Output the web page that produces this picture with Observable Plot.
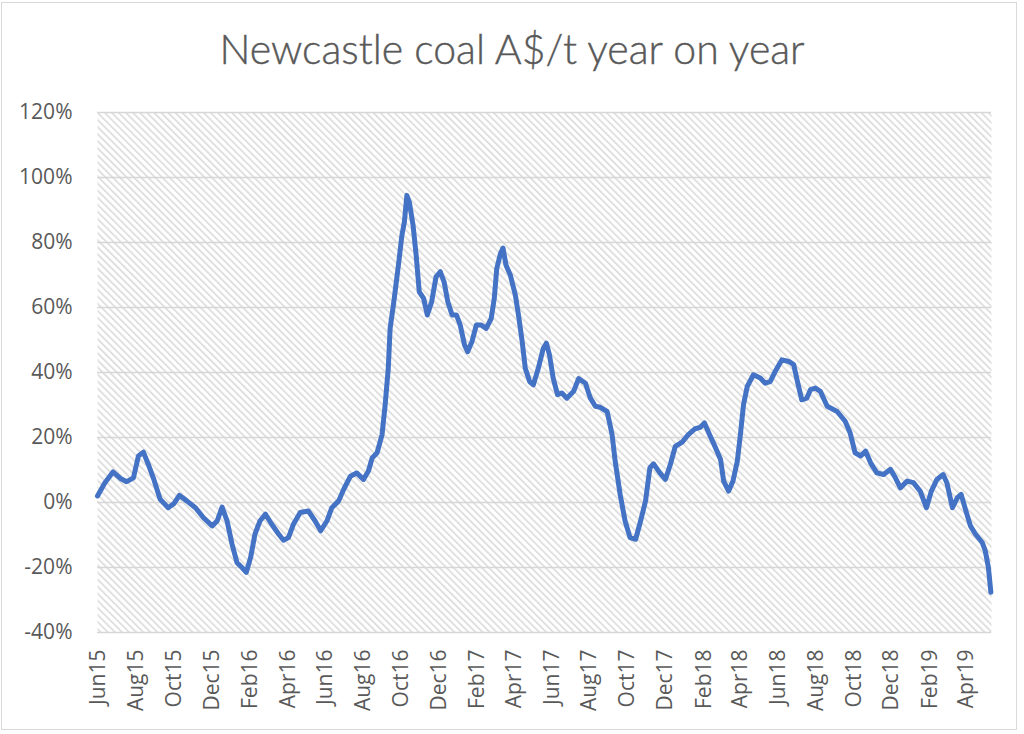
<!DOCTYPE html>
<html>
<head>
<meta charset="utf-8">
<script src="https://cdn.jsdelivr.net/npm/d3@7"></script>
<script src="https://cdn.jsdelivr.net/npm/@observablehq/plot@0.6"></script>
<style>
  html, body { margin: 0; padding: 0; background: #fff; }
  #wrap { position: relative; width: 1024px; height: 734px; overflow: hidden; background: #fff; }
  #border { position: absolute; left: 1px; top: 2px; width: 1016px; height: 728px; border: 1px solid #d9d9d9; box-sizing: border-box; }
  #title { position: absolute; left: 0; width: 1024px; top: 25px; text-align: center; font-family: Lato, "Open Sans", sans-serif; font-weight: 300; font-size: 41px; line-height: 48px; color: #595959; white-space: nowrap; -webkit-text-stroke: 0.4px #595959; }
  #chart { position: absolute; left: 0; top: 80px; }
</style>
</head>
<body>
<div id="wrap">
  <div id="border"></div>
  <div id="title">Newcastle coal A$/t year on year</div>
  <div id="chart"></div>
</div>
<script>
// Weekly-ish readings of the year-on-year change (%)
const dates = [
  "2015-05-30","2015-06-11","2015-06-24","2015-07-06","2015-07-16","2015-07-27","2015-08-04","2015-08-12","2015-08-20","2015-08-28",
  "2015-09-08","2015-09-21","2015-09-30","2015-10-09","2015-10-21","2015-11-04","2015-11-17","2015-12-01","2015-12-09","2015-12-17",
  "2015-12-25","2016-01-02","2016-01-10","2016-01-18","2016-01-25","2016-02-01","2016-02-08","2016-02-16","2016-02-25","2016-03-06",
  "2016-03-17","2016-03-25","2016-04-02","2016-04-10","2016-04-21","2016-05-04","2016-05-15","2016-05-24","2016-06-03","2016-06-11",
  "2016-06-22","2016-06-30","2016-07-11","2016-07-21","2016-08-01","2016-08-09","2016-08-15","2016-08-23","2016-08-31","2016-09-05",
  "2016-09-10","2016-09-13","2016-09-19","2016-09-23","2016-09-27","2016-10-02","2016-10-06","2016-10-10","2016-10-14","2016-10-20",
  "2016-10-25","2016-10-30","2016-11-06","2016-11-12","2016-11-19","2016-11-26","2016-12-03","2016-12-09","2016-12-15","2016-12-22",
  "2016-12-29","2017-01-04","2017-01-11","2017-01-16","2017-01-23","2017-01-30","2017-02-07","2017-02-15","2017-02-23","2017-02-28",
  "2017-03-04","2017-03-10","2017-03-14","2017-03-19","2017-03-26","2017-04-03","2017-04-08","2017-04-14","2017-04-19","2017-04-26",
  "2017-05-02","2017-05-10","2017-05-18","2017-05-23","2017-05-28","2017-06-03","2017-06-10","2017-06-17","2017-06-25","2017-07-06",
  "2017-07-14","2017-07-25","2017-08-02","2017-08-10","2017-08-18","2017-08-29","2017-09-06","2017-09-11","2017-09-19","2017-09-27",
  "2017-10-05","2017-10-14","2017-10-22","2017-10-30","2017-11-06","2017-11-12","2017-11-22","2017-12-01","2017-12-09","2017-12-17",
  "2017-12-28","2018-01-07","2018-01-18","2018-01-26","2018-02-02","2018-02-09","2018-02-20","2018-02-28","2018-03-05","2018-03-13",
  "2018-03-20","2018-03-27","2018-04-01","2018-04-06","2018-04-12","2018-04-22","2018-05-03","2018-05-11","2018-05-19","2018-05-27",
  "2018-06-07","2018-06-18","2018-06-26","2018-07-02","2018-07-09","2018-07-17","2018-07-23","2018-07-31","2018-08-08","2018-08-19",
  "2018-09-04","2018-09-17","2018-09-25","2018-10-03","2018-10-12","2018-10-20","2018-10-28","2018-11-07","2018-11-18","2018-11-29",
  "2018-12-07","2018-12-15","2018-12-26","2019-01-05","2019-01-16","2019-01-26","2019-02-03","2019-02-12","2019-02-22","2019-02-28",
  "2019-03-09","2019-03-17","2019-03-23","2019-03-30","2019-04-07","2019-04-15","2019-04-26","2019-05-01","2019-05-06","2019-05-10"
];
const values = [
  2.0, 6.1, 9.4, 7.4, 6.4, 7.6, 14.3, 15.5, 11.7, 7.6,
  1.0, -1.6, -0.4, 2.2, 0.5, -1.6, -4.7, -7.2, -5.7, -1.4,
  -5.7, -12.8, -18.5, -20.0, -21.5, -16.9, -9.7, -5.7, -3.6, -6.7,
  -9.7, -11.6, -10.8, -6.7, -3.1, -2.6, -5.7, -8.7, -5.7, -1.6,
  0.5, 4.0, 8.1, 9.1, 7.1, 9.7, 13.7, 15.3, 20.9, 30.1,
  41.3, 53.6, 61.8, 67.9, 74.0, 82.2, 86.3, 94.5, 92.4, 85.3,
  76.1, 64.8, 62.8, 57.7, 61.8, 69.4, 71.0, 67.9, 61.8, 57.7,
  57.7, 54.6, 48.5, 46.4, 49.5, 54.6, 54.6, 53.6, 56.6, 62.8,
  72.0, 76.6, 78.3, 73.0, 69.9, 63.8, 57.7, 49.5, 41.3, 37.2,
  36.2, 41.3, 47.4, 49.0, 45.4, 38.3, 33.2, 33.7, 32.1, 34.2,
  38.1, 36.7, 32.1, 29.6, 29.3, 28.0, 20.9, 12.7, 2.5, -5.7,
  -10.8, -11.3, -5.7, 0.5, 10.7, 11.9, 9.1, 7.1, 11.7, 17.3,
  18.6, 20.9, 22.7, 23.1, 24.5, 21.4, 16.8, 13.2, 6.6, 3.5,
  6.6, 12.7, 20.9, 30.1, 35.7, 39.3, 38.3, 36.7, 37.2, 40.3,
  43.9, 43.4, 42.4, 37.2, 31.6, 32.1, 34.7, 35.2, 34.2, 29.6,
  28.0, 25.0, 21.4, 15.3, 14.3, 15.8, 12.2, 9.1, 8.6, 10.2,
  7.6, 4.5, 6.6, 6.1, 3.5, -1.6, 3.5, 7.1, 8.6, 6.1,
  -1.6, 1.5, 2.5, -2.1, -7.2, -9.7, -12.3, -14.9, -20.0, -27.6
];
const xTickMonths = [
  "2015-06-01","2015-08-01","2015-10-01","2015-12-01","2016-02-01","2016-04-01","2016-06-01","2016-08-01",
  "2016-10-01","2016-12-01","2017-02-01","2017-04-01","2017-06-01","2017-08-01","2017-10-01","2017-12-01",
  "2018-02-01","2018-04-01","2018-06-01","2018-08-01","2018-10-01","2018-12-01","2019-02-01","2019-04-01"
];
const yTicks = [-40, -20, 0, 20, 40, 60, 80, 100, 120];
const xDomain = ["2015-05-30", "2019-05-11"];

const parse = d3.utcParse("%Y-%m-%d");
const data = dates.map((d, i) => ({date: parse(d), value: values[i]}));
const fmt = d3.utcFormat("%b%y");

const svg = Plot.plot({
  width: 1024,
  height: 654,
  marginLeft: 97,
  marginRight: 33,
  marginTop: 32,
  marginBottom: 102,
  style: {background: "transparent", color: "#595959", fontFamily: "'Open Sans', sans-serif"},
  x: {type: "utc", domain: xDomain.map(parse)},
  y: {domain: [-40, 120]},
  marks: [
    Plot.frame({fill: "url(#hatch)", stroke: "none"}),
    Plot.ruleY(yTicks, {stroke: "#d6d6d6", strokeWidth: 1.5}),
    Plot.axisY({ticks: yTicks, tickFormat: d => d + "%", tickSize: 0, tickPadding: 25, fontSize: 21, fill: "#595959", label: null}),
    Plot.axisX({ticks: xTickMonths.map(parse), tickFormat: fmt, tickRotate: -90, tickSize: 0, tickPadding: 17, fontSize: 21, fill: "#595959", label: null}),
    Plot.line(data, {x: "date", y: "value", stroke: "#4472C4", strokeWidth: 5, strokeLinejoin: "round", strokeLinecap: "round"})
  ]
});

const defs = d3.select(svg).insert("defs", ":first-child");
const pat = defs.append("pattern")
  .attr("id", "hatch")
  .attr("patternUnits", "userSpaceOnUse")
  .attr("width", 5)
  .attr("height", 5)
  .attr("patternTransform", "rotate(-45)");
pat.append("rect").attr("width", 5).attr("height", 5).attr("fill", "#ffffff");
pat.append("line").attr("x1", 0.8).attr("y1", 0).attr("x2", 0.8).attr("y2", 5)
  .attr("stroke", "#d8d8d8").attr("stroke-width", 1.5);

document.getElementById("chart").appendChild(svg);
</script>
</body>
</html>
